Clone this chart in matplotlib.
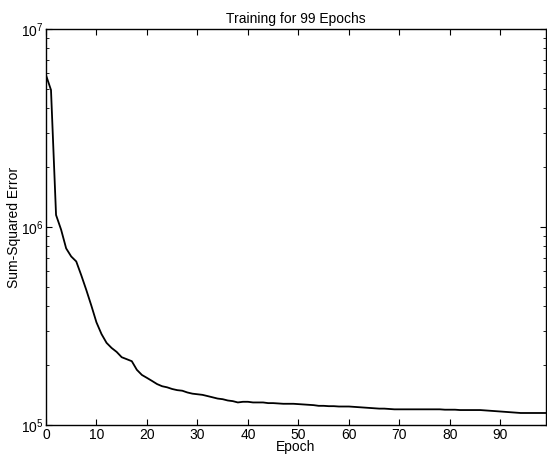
import matplotlib
matplotlib.use('Agg')
import matplotlib.pyplot as plt

# sum-squared error per epoch
epochs = list(range(100))
sse = [
    5.86e6, 4.92e6, 1.15e6, 9.7e5, 7.8e5, 7.1e5, 6.7e5, 5.7e5, 4.8e5, 4.0e5,
    3.3e5, 2.88e5, 2.60e5, 2.45e5, 2.34e5, 2.20e5, 2.15e5, 2.10e5, 1.90e5, 1.79e5,
    1.73e5, 1.67e5, 1.61e5, 1.57e5, 1.55e5, 1.52e5, 1.50e5, 1.49e5, 1.46e5, 1.44e5,
    1.43e5, 1.42e5, 1.40e5, 1.38e5, 1.36e5, 1.35e5, 1.33e5, 1.32e5, 1.30e5, 1.31e5,
    1.31e5, 1.30e5, 1.30e5, 1.30e5, 1.29e5, 1.29e5, 1.285e5, 1.28e5, 1.28e5, 1.28e5,
    1.275e5, 1.27e5, 1.265e5, 1.26e5, 1.25e5, 1.25e5, 1.245e5, 1.245e5, 1.24e5, 1.24e5,
    1.24e5, 1.235e5, 1.23e5, 1.225e5, 1.22e5, 1.215e5, 1.21e5, 1.21e5, 1.205e5, 1.20e5,
    1.20e5, 1.20e5, 1.20e5, 1.20e5, 1.20e5, 1.20e5, 1.20e5, 1.20e5, 1.20e5, 1.195e5,
    1.195e5, 1.195e5, 1.19e5, 1.19e5, 1.19e5, 1.19e5, 1.19e5, 1.185e5, 1.18e5, 1.175e5,
    1.17e5, 1.165e5, 1.16e5, 1.155e5, 1.15e5, 1.15e5, 1.15e5, 1.15e5, 1.15e5, 1.15e5,
]
xticks = [0, 10, 20, 30, 40, 50, 60, 70, 80, 90]

plt.rcParams['font.family'] = ['Liberation Sans', 'DejaVu Sans']
plt.rcParams['font.size'] = 10

fig = plt.figure(figsize=(5.47, 4.57), dpi=100)
ax = fig.add_axes([0.084, 0.070, 0.914, 0.8665])

ax.semilogy(epochs, sse, color='black', linewidth=1.3)

ax.set_xlim(0, 99)
ax.set_ylim(1e5, 1e7)
ax.set_xticks(xticks)
ax.tick_params(which='both', direction='in', top=True, right=True, colors='black')
ax.tick_params(which='major', length=4, width=0.8, pad=2)
ax.tick_params(which='minor', length=2, width=0.6)
for s in ax.spines.values():
    s.set_linewidth(1.0)

ax.set_title('Training for 99 Epochs', fontsize=10, pad=4)
ax.set_xlabel('Epoch', labelpad=-1)
ax.set_ylabel('Sum-Squared Error', labelpad=0)

fig.savefig('out.png', dpi=100)
